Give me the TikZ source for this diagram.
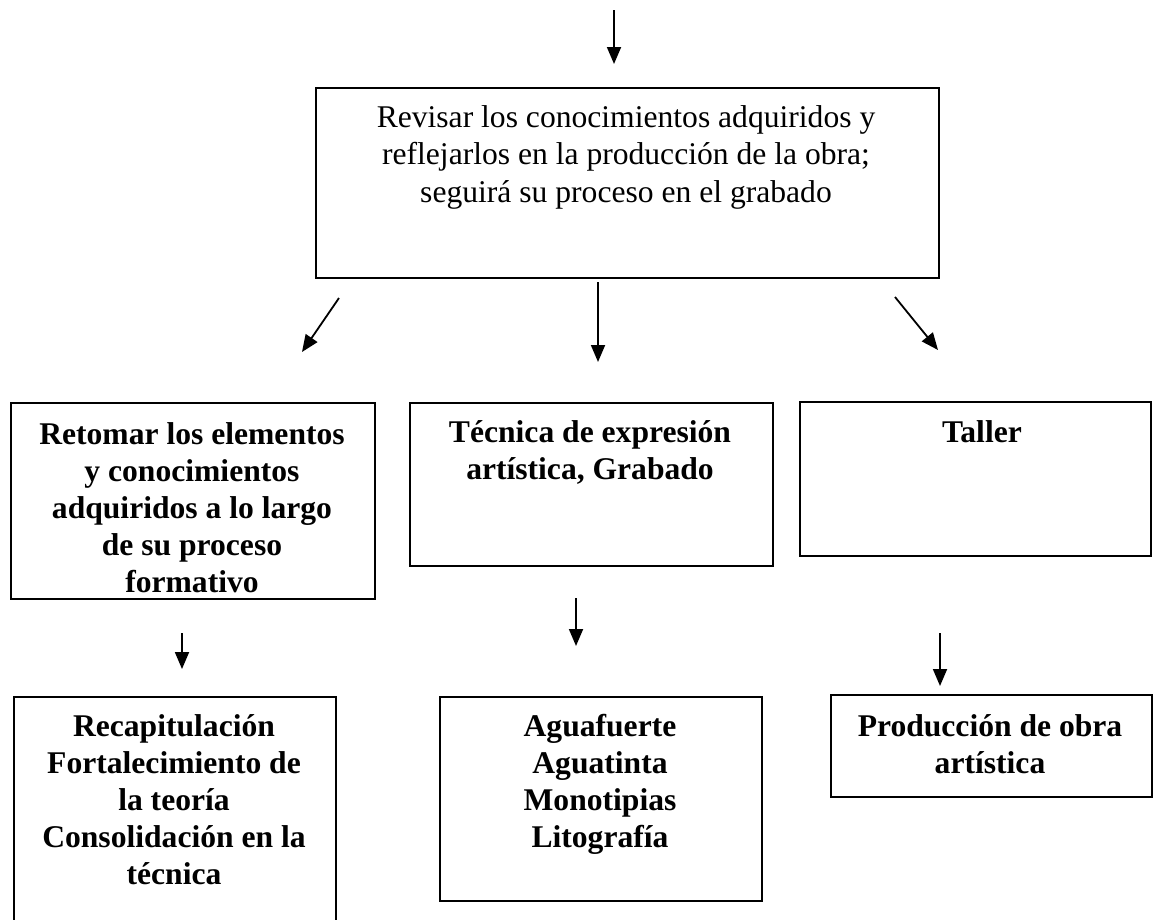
\documentclass[tikz,border=0pt]{standalone}
\usepackage{fontspec}
\setmainfont{Liberation Serif}
\usetikzlibrary{arrows.meta}
\begin{document}
\begin{tikzpicture}[x=1pt,y=-1pt,
  box/.style={draw, line width=1.6pt, anchor=north west, inner sep=0pt},
  lbl/.style={anchor=north, align=center, inner sep=0pt, font=\fontsize{31.6}{37}\selectfont\bfseries},
  lblr/.style={anchor=north, align=center, inner sep=0pt, font=\fontsize{31.6}{37.5}\selectfont},
  arr/.style={line width=1.8pt, -{Triangle[length=17pt,width=14pt]}}]
\useasboundingbox (0,0) rectangle (1158,919);
\clip (0,0) rectangle (1158,919);
% boxes
\node[box, minimum width=623pt, minimum height=190pt] (top) at (315,87) {};
\node[box, minimum width=364pt, minimum height=196pt] (left) at (10,402) {};
\node[box, minimum width=363pt, minimum height=163pt] (mid) at (409,402) {};
\node[box, minimum width=351pt, minimum height=154pt] (right) at (799,401) {};
\node[box, minimum width=322pt, minimum height=240pt] (bleft) at (13,696) {};
\node[box, minimum width=322pt, minimum height=204pt] (bmid) at (439,696) {};
\node[box, minimum width=321pt, minimum height=102pt] (bright) at (830,694) {};
% labels
\node[lblr] (ttop) at (626,101) {\strut Revisar los conocimientos adquiridos y\\reflejarlos en la producción de la obra;\\seguirá su proceso en el grabado};
\node[lbl] (tleft) at (192,418) {\strut Retomar los elementos\\y conocimientos\\adquiridos a lo largo\\de su proceso\\formativo};
\node[lbl] (tmid) at (590,416) {\strut Técnica de expresión\\artística, Grabado};
\node[lbl] (tright) at (982,416) {\strut Taller};
\node[lbl] (tbleft) at (174,710) {\strut Recapitulación\\Fortalecimiento de\\la teoría\\Consolidación en la\\técnica};
\node[lbl] (tbmid) at (600,710) {\strut Aguafuerte\\Aguatinta\\Monotipias\\Litografía};
\node[lbl] (tbright) at (990,710) {\strut Producción de obra\\artística};
% arrow end points
\coordinate (a0s) at (614,10);  \coordinate (a0e) at (614,64);
\coordinate (a1s) at (339,298); \coordinate (a1e) at (302,352);
\coordinate (a2s) at (598,282); \coordinate (a2e) at (598,362);
\coordinate (a3s) at (895,297); \coordinate (a3e) at (938,350);
\coordinate (a4s) at (182,633); \coordinate (a4e) at (182,669);
\coordinate (a5s) at (576,598); \coordinate (a5e) at (576,646);
\coordinate (a6s) at (940,633); \coordinate (a6e) at (940,686);
\draw[arr] (a0s) -- (a0e);
\draw[arr] (a1s) -- (a1e);
\draw[arr] (a2s) -- (a2e);
\draw[arr] (a3s) -- (a3e);
\draw[arr] (a4s) -- (a4e);
\draw[arr] (a5s) -- (a5e);
\draw[arr] (a6s) -- (a6e);
\end{tikzpicture}
\end{document}
